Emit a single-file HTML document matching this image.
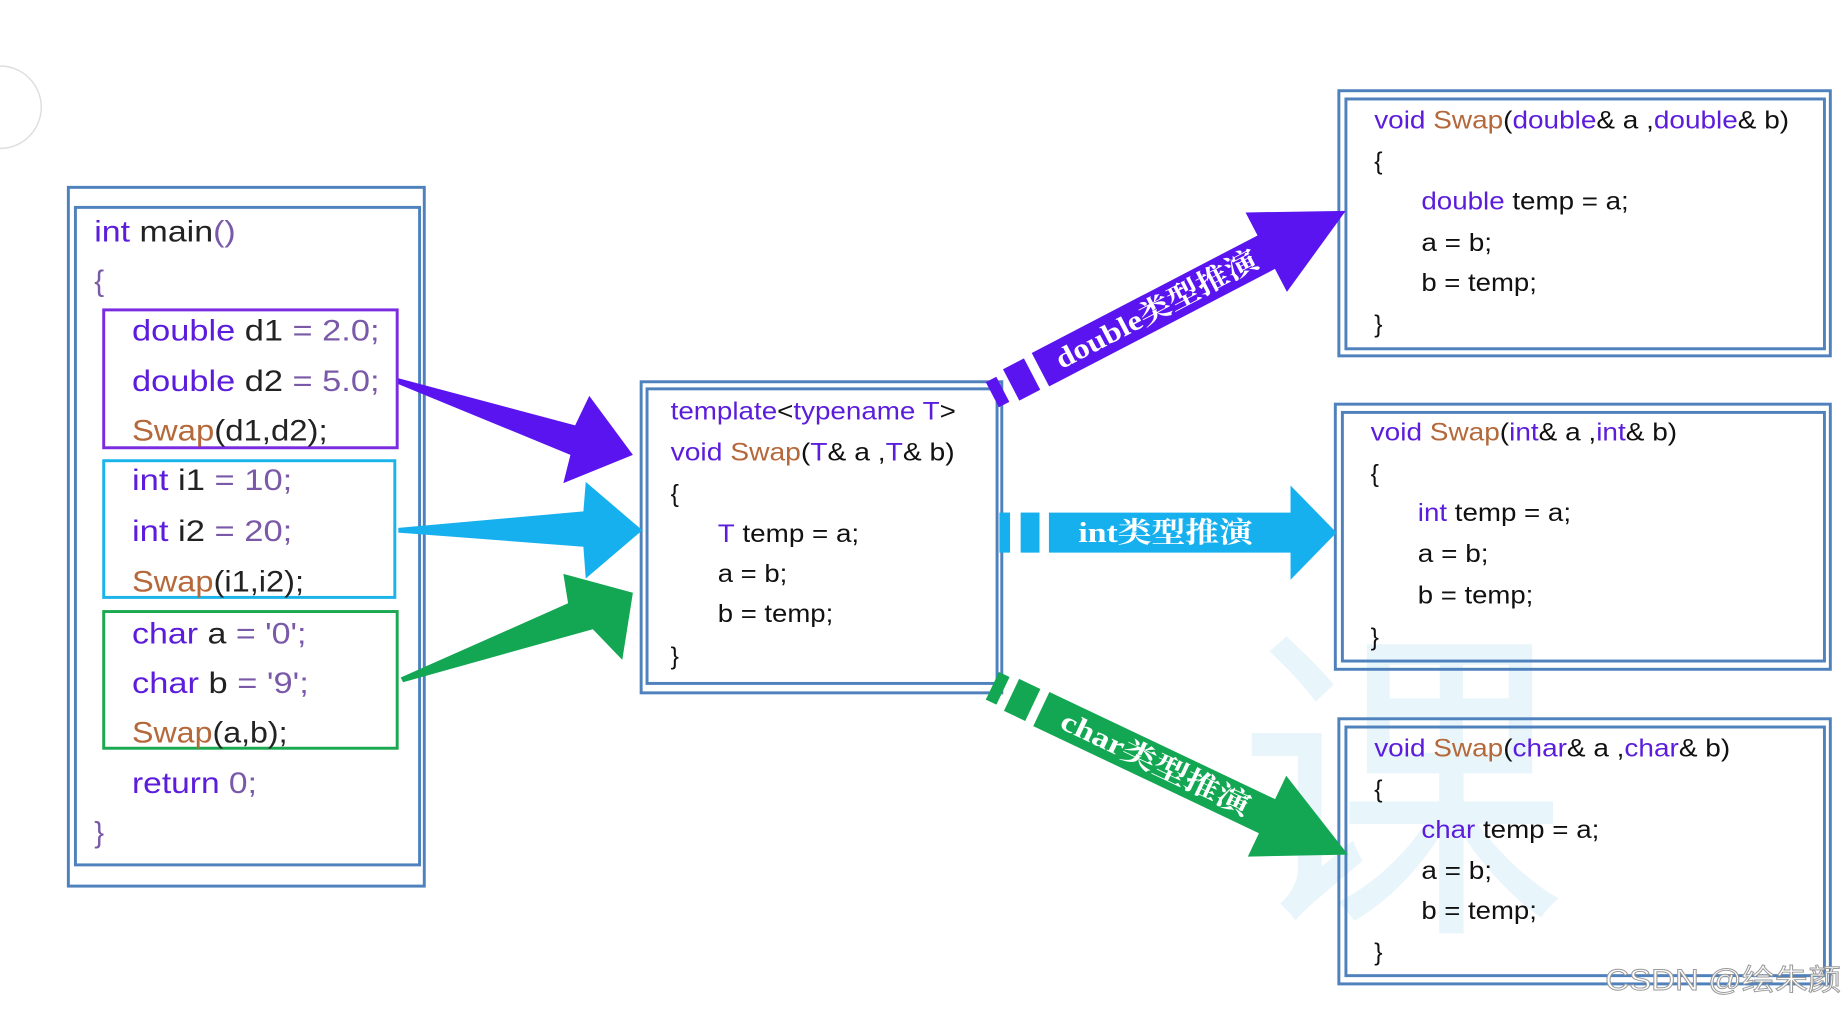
<!DOCTYPE html>
<html><head><meta charset="utf-8"><style>
html,body{margin:0;padding:0;background:#fff;}
svg{display:block}
.c{font-family:"Liberation Sans","Noto Sans CJK SC",sans-serif;}
.m{font-size:25px;fill:#222}
.s{font-size:21px;fill:#111}
.k{fill:#5b1ddb}
.f{fill:#b5683a}
.w{font-family:"Liberation Serif","Noto Serif CJK SC",serif;font-weight:bold;fill:#fff;font-size:24px}
</style></head><body>
<svg width="1848" height="1011" viewBox="0 0 1568 858" preserveAspectRatio="none" xmlns="http://www.w3.org/2000/svg">
<rect width="1568" height="858" fill="#fff"/>
<circle cx="0" cy="91" r="35" fill="none" stroke="#ddd" stroke-width="1.2"/>
<text x="1050" y="770" font-family="Noto Sans CJK SC,sans-serif" font-size="280" fill="#e3f3fb" opacity="0.8">课</text>

<g fill="none" stroke="#4f81bd" stroke-width="2.5">
<rect x="58" y="159" width="302" height="593"/>
<rect x="64" y="176" width="292" height="558"/>
<rect x="544" y="324" width="306" height="264"/>
<rect x="549" y="330" width="297" height="250"/>
<rect x="1136" y="77" width="417" height="225"/>
<rect x="1142" y="84" width="406" height="212"/>
<rect x="1133" y="343" width="420" height="225"/>
<rect x="1139" y="350" width="409" height="211"/>
<rect x="1136" y="610" width="417" height="225"/>
<rect x="1142" y="617" width="406" height="211"/>
</g>
<rect x="88" y="263" width="249" height="117" fill="none" stroke="#7b2be0" stroke-width="2.5"/>
<rect x="88" y="391" width="247" height="116" fill="none" stroke="#1ab4ea" stroke-width="2.5"/>
<rect x="88" y="519" width="249" height="116" fill="none" stroke="#1aa850" stroke-width="2.5"/>

<g class="c m">
<text x="80" y="205" textLength="120" lengthAdjust="spacingAndGlyphs"><tspan class="k">int</tspan> main<tspan fill="#7a5aa8">()</tspan></text>
<text x="80" y="247" fill="#7a5aa8">{</text>
<text x="112" y="289" textLength="210" lengthAdjust="spacingAndGlyphs"><tspan class="k">double</tspan> d1  <tspan fill="#7a5aa8">=  2.0;</tspan></text>
<text x="112" y="332" textLength="210" lengthAdjust="spacingAndGlyphs"><tspan class="k">double</tspan> d2  <tspan fill="#7a5aa8">=  5.0;</tspan></text>
<text x="112" y="374" textLength="166" lengthAdjust="spacingAndGlyphs"><tspan class="f">Swap</tspan>(d1,d2);</text>
<text x="112" y="416" textLength="136" lengthAdjust="spacingAndGlyphs"><tspan class="k">int</tspan> i1 <tspan fill="#7a5aa8">= 10;</tspan></text>
<text x="112" y="459" textLength="136" lengthAdjust="spacingAndGlyphs"><tspan class="k">int</tspan> i2 <tspan fill="#7a5aa8">= 20;</tspan></text>
<text x="112" y="502" textLength="146" lengthAdjust="spacingAndGlyphs"><tspan class="f">Swap</tspan>(i1,i2);</text>
<text x="112" y="546" textLength="148" lengthAdjust="spacingAndGlyphs"><tspan class="k">char</tspan> a <tspan fill="#7a5aa8">= '0';</tspan></text>
<text x="112" y="588" textLength="150" lengthAdjust="spacingAndGlyphs"><tspan class="k">char</tspan> b <tspan fill="#7a5aa8">= '9';</tspan></text>
<text x="112" y="630" textLength="132" lengthAdjust="spacingAndGlyphs"><tspan class="f">Swap</tspan>(a,b);</text>
<text x="112" y="673" class="k" textLength="106" lengthAdjust="spacingAndGlyphs">return <tspan fill="#7a5aa8">0;</tspan></text>
<text x="80" y="715" fill="#7a5aa8">}</text>
</g>

<g class="c s">
<text x="569" y="356" textLength="242" lengthAdjust="spacingAndGlyphs"><tspan class="k">template</tspan>&lt;<tspan class="k">typename T</tspan>&gt;</text>
<text x="569" y="391" textLength="241" lengthAdjust="spacingAndGlyphs"><tspan class="k">void</tspan> <tspan class="f">Swap</tspan>(<tspan class="k">T</tspan>&amp; a ,<tspan class="k">T</tspan>&amp; b)</text>
<text x="569" y="426">{</text>
<text x="609" y="460" textLength="120" lengthAdjust="spacingAndGlyphs"><tspan class="k">T</tspan> temp = a;</text>
<text x="609" y="494" textLength="59" lengthAdjust="spacingAndGlyphs">a = b;</text>
<text x="609" y="528" textLength="98" lengthAdjust="spacingAndGlyphs">b = temp;</text>
<text x="569" y="564">}</text>

<text x="1166" y="109" textLength="352" lengthAdjust="spacingAndGlyphs"><tspan class="k">void</tspan> <tspan class="f">Swap</tspan>(<tspan class="k">double</tspan>&amp; a ,<tspan class="k">double</tspan>&amp; b)</text>
<text x="1166" y="144">{</text>
<text x="1206" y="178" textLength="176" lengthAdjust="spacingAndGlyphs"><tspan class="k">double</tspan> temp = a;</text>
<text x="1206" y="213" textLength="60" lengthAdjust="spacingAndGlyphs">a = b;</text>
<text x="1206" y="247" textLength="98" lengthAdjust="spacingAndGlyphs">b = temp;</text>
<text x="1166" y="282">}</text>

<text x="1163" y="374" textLength="260" lengthAdjust="spacingAndGlyphs"><tspan class="k">void</tspan> <tspan class="f">Swap</tspan>(<tspan class="k">int</tspan>&amp; a ,<tspan class="k">int</tspan>&amp; b)</text>
<text x="1163" y="409">{</text>
<text x="1203" y="442" textLength="130" lengthAdjust="spacingAndGlyphs"><tspan class="k">int</tspan> temp = a;</text>
<text x="1203" y="477" textLength="60" lengthAdjust="spacingAndGlyphs">a = b;</text>
<text x="1203" y="512" textLength="98" lengthAdjust="spacingAndGlyphs">b = temp;</text>
<text x="1163" y="548">}</text>

<text x="1166" y="642" textLength="302" lengthAdjust="spacingAndGlyphs"><tspan class="k">void</tspan> <tspan class="f">Swap</tspan>(<tspan class="k">char</tspan>&amp; a ,<tspan class="k">char</tspan>&amp; b)</text>
<text x="1166" y="677">{</text>
<text x="1206" y="711" textLength="151" lengthAdjust="spacingAndGlyphs"><tspan class="k">char</tspan> temp = a;</text>
<text x="1206" y="746" textLength="60" lengthAdjust="spacingAndGlyphs">a = b;</text>
<text x="1206" y="780" textLength="98" lengthAdjust="spacingAndGlyphs">b = temp;</text>
<text x="1166" y="815">}</text>
</g>

<polygon points="338,321 488,361 500,336 537,386 478,410 484,386 338,326" fill="#5a14f0"/>
<polygon points="338,448 495,434 497,409 545,450 497,491 495,464 338,452" fill="#16b0ee"/>
<polygon points="340,575 482,512 478,487 537,503 528,560 503,534 342,579" fill="#13a753"/>

<g transform="translate(842,335) rotate(-27.5)" fill="#5a14f0">
<rect x="0" y="-12" width="10" height="24"/>
<rect x="18" y="-15" width="20" height="30"/>
<polygon points="46,-16 262,-16 262,-38 338,0 262,38 262,16 46,16"/>
<text class="w" x="62" y="8" textLength="190" lengthAdjust="spacingAndGlyphs">double类型推演</text>
</g>
<g transform="translate(848,452)" fill="#16b0ee">
<rect x="0" y="-17" width="9" height="34"/>
<rect x="18" y="-17" width="16" height="34"/>
<polygon points="42,-17 247,-17 247,-40 286,0 247,40 247,17 42,17"/>
<text class="w" x="67" y="8" textLength="148" lengthAdjust="spacingAndGlyphs">int类型推演</text>
</g>
<g transform="translate(842,582) rotate(25.4)" fill="#13a753">
<rect x="0" y="-13" width="10" height="26"/>
<rect x="18" y="-15" width="20" height="30"/>
<polygon points="46,-16 258,-16 258,-38 334,0 258,38 258,16 46,16"/>
<text class="w" x="66" y="8" textLength="175" lengthAdjust="spacingAndGlyphs">char类型推演</text>
</g>

<text x="1362" y="840" font-family="Liberation Sans,Noto Sans CJK SC,sans-serif" font-size="25" fill="#fff" stroke="#999" stroke-width="0.8" textLength="200" lengthAdjust="spacingAndGlyphs">CSDN @绘朱颜</text>
</svg>
</body></html>
